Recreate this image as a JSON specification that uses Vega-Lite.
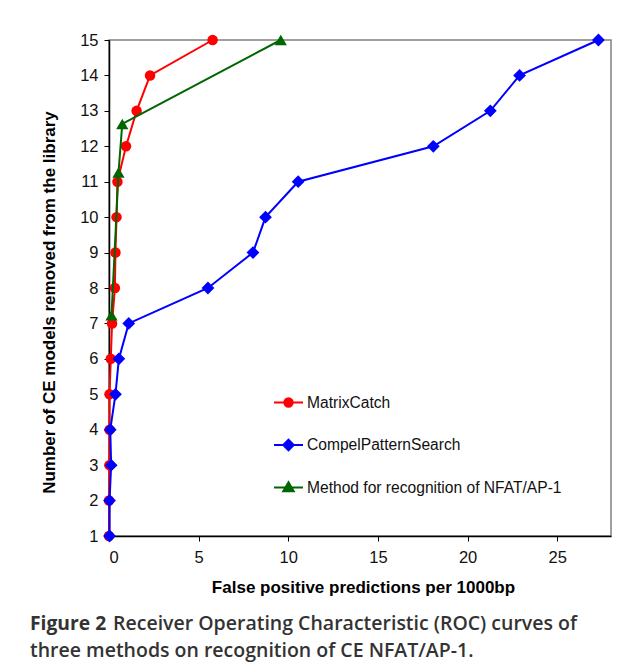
{
  "$schema": "https://vega.github.io/schema/vega-lite/v6.json",
  "autosize": {"type": "none"},
  "padding": {"left": 109, "top": 40, "right": 22, "bottom": 127},
  "width": 502,
  "height": 496,
  "background": "white",
  "config": {
    "view": {"stroke": "#808080", "strokeWidth": 1.5},
    "font": "Liberation Sans"
  },
  "title": {
    "text": "Figure 2",
    "subtitle": ["\u200b\u2002\u2002\u2002\u2002\u2002\u2002\u2002\u2002\u00a0Receiver Operating Characteristic (ROC) curves of", "three methods on recognition of CE NFAT/AP-1."],
    "orient": "bottom",
    "anchor": "start",
    "frame": "group",
    "dx": -79,
    "offset": 20,
    "font": "Open Sans",
    "fontSize": 19.3,
    "fontWeight": "bold",
    "color": "#333333",
    "subtitleFont": "Open Sans",
    "subtitleFontSize": 19.5,
    "subtitleFontWeight": 600,
    "subtitleColor": "#333333",
    "subtitleLineHeight": 26.5,
    "subtitlePadding": -19
  },
  "data": {
    "values": [
      {"method": "MatrixCatch", "fp": 0.0, "n": 1},
      {"method": "MatrixCatch", "fp": 0.0, "n": 2},
      {"method": "MatrixCatch", "fp": 0.02, "n": 3},
      {"method": "MatrixCatch", "fp": 0.03, "n": 4},
      {"method": "MatrixCatch", "fp": 0.03, "n": 5},
      {"method": "MatrixCatch", "fp": 0.1, "n": 6},
      {"method": "MatrixCatch", "fp": 0.17, "n": 7},
      {"method": "MatrixCatch", "fp": 0.33, "n": 8},
      {"method": "MatrixCatch", "fp": 0.36, "n": 9},
      {"method": "MatrixCatch", "fp": 0.42, "n": 10},
      {"method": "MatrixCatch", "fp": 0.47, "n": 11},
      {"method": "MatrixCatch", "fp": 0.95, "n": 12},
      {"method": "MatrixCatch", "fp": 1.54, "n": 13},
      {"method": "MatrixCatch", "fp": 2.29, "n": 14},
      {"method": "MatrixCatch", "fp": 5.78, "n": 15},
      {"method": "CompelPatternSearch", "fp": 0.03, "n": 1},
      {"method": "CompelPatternSearch", "fp": 0.03, "n": 2},
      {"method": "CompelPatternSearch", "fp": 0.12, "n": 3},
      {"method": "CompelPatternSearch", "fp": 0.07, "n": 4},
      {"method": "CompelPatternSearch", "fp": 0.36, "n": 5},
      {"method": "CompelPatternSearch", "fp": 0.55, "n": 6},
      {"method": "CompelPatternSearch", "fp": 1.1, "n": 7},
      {"method": "CompelPatternSearch", "fp": 5.52, "n": 8},
      {"method": "CompelPatternSearch", "fp": 8.03, "n": 9},
      {"method": "CompelPatternSearch", "fp": 8.73, "n": 10},
      {"method": "CompelPatternSearch", "fp": 10.55, "n": 11},
      {"method": "CompelPatternSearch", "fp": 18.09, "n": 12},
      {"method": "CompelPatternSearch", "fp": 21.27, "n": 13},
      {"method": "CompelPatternSearch", "fp": 22.9, "n": 14},
      {"method": "CompelPatternSearch", "fp": 27.3, "n": 15},
      {"method": "Method for recognition of NFAT/AP-1", "fp": 0.14, "n": 7.23},
      {"method": "Method for recognition of NFAT/AP-1", "fp": 0.53, "n": 11.26},
      {"method": "Method for recognition of NFAT/AP-1", "fp": 0.74, "n": 12.63},
      {"method": "Method for recognition of NFAT/AP-1", "fp": 9.58, "n": 15}
    ]
  },
  "encoding": {
    "x": {
      "field": "fp", "type": "quantitative",
      "scale": {"domain": [0, 28], "nice": false, "zero": false},
      "axis": {
        "values": [0, 5, 10, 15, 20, 25],
        "title": "False positive predictions per 1000bp",
        "grid": false,
        "domainColor": "black", "domainWidth": 1.5,
        "tickColor": "black", "tickSize": 5,
        "labelFont": "Liberation Sans", "labelFontSize": 16.5, "labelColor": "#111111", "labelPadding": 8,
        "titleFont": "Liberation Sans", "titleFontSize": 17, "titleFontWeight": "bold", "titleColor": "black",
        "titleBaseline": "middle", "titleY": 51, "titleX": 254
      }
    },
    "y": {
      "field": "n", "type": "quantitative",
      "scale": {"domain": [1, 15], "nice": false, "zero": false},
      "axis": {
        "values": [1, 2, 3, 4, 5, 6, 7, 8, 9, 10, 11, 12, 13, 14, 15],
        "title": "Number of CE models removed from the library",
        "grid": false,
        "domainColor": "black", "domainWidth": 1.5,
        "tickColor": "black", "tickSize": 5,
        "labelFont": "Liberation Sans", "labelFontSize": 16.5, "labelColor": "#111111", "labelPadding": 6,
        "titleFont": "Liberation Sans", "titleFontSize": 17, "titleFontWeight": "bold", "titleColor": "black",
        "titleBaseline": "middle", "titleX": -60, "titleY": 262, "titleAngle": 270
      }
    },
    "color": {
      "field": "method", "type": "nominal",
      "scale": {
        "domain": ["MatrixCatch", "CompelPatternSearch", "Method for recognition of NFAT/AP-1"],
        "range": ["#ff0000", "#0000ff", "#006600"]
      },
      "legend": {
        "orient": "none",
        "legendX": 164,
        "legendY": 347,
        "title": null,
        "padding": 0,
        "symbolSize": 841,
        "symbolStrokeWidth": 2,
        "labelFont": "Liberation Sans",
        "labelFontSize": 15.6,
        "labelColor": "#111111",
        "labelOffset": 3,
        "labelLimit": 0,
        "rowPadding": 17.5,
        "encode": {
          "symbols": {
            "update": {
              "shape": {"signal": "datum.value === 'MatrixCatch' ? 'M-1,0H1M0.29,0A0.29,0.29,0,1,1,-0.29,0A0.29,0.29,0,1,1,0.29,0Z' : datum.value === 'CompelPatternSearch' ? 'M-1,0H1M0,-0.36L0.36,0L0,0.36L-0.36,0Z' : 'M-1,0H1M0,-0.36L0.36,0.26L-0.36,0.26Z'"},
              "fill": {"scale": "color", "field": "value"},
              "stroke": {"scale": "color", "field": "value"},
              "opacity": {"value": 1},
              "fillOpacity": {"value": 1},
              "strokeWidth": {"value": 2}
            }
          }
        }
      }
    },
    "order": {"field": "n", "type": "quantitative"}
  },
  "layer": [
    {
      "transform": [{"filter": "datum.method === 'MatrixCatch'"}],
      "layer": [
        {"mark": {"type": "line", "strokeWidth": 2}},
        {"mark": {"type": "point", "shape": "circle", "filled": true, "size": 110, "opacity": 1}}
      ]
    },
    {
      "transform": [{"filter": "datum.method === 'CompelPatternSearch'"}],
      "layer": [
        {"mark": {"type": "line", "strokeWidth": 2}},
        {"mark": {"type": "point", "shape": "diamond", "filled": true, "size": 163, "opacity": 1}}
      ]
    },
    {
      "transform": [{"filter": "datum.method === 'Method for recognition of NFAT/AP-1'"}],
      "layer": [
        {"mark": {"type": "line", "strokeWidth": 2}},
        {"mark": {"type": "point", "shape": "triangle-up", "filled": true, "size": 150, "opacity": 1}}
      ]
    }
  ]
}
